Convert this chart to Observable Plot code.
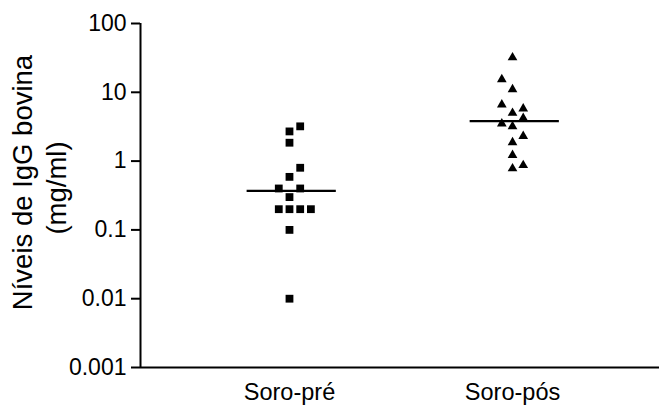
<!DOCTYPE html>
<html>
<head>
<meta charset="utf-8">
<script src="https://cdn.jsdelivr.net/npm/d3@7"></script>
<script src="https://cdn.jsdelivr.net/npm/@observablehq/plot@0.6"></script>
<style>
  html, body { margin: 0; padding: 0; background: #fff; }
  #chart svg { display: block; }
</style>
</head>
<body>
<div id="chart"></div>
<script>
// ---- data ----
const categories = ["Soro-pré", "Soro-pós"];
const preValues  = [3.2, 2.7, 1.85, 0.8, 0.59, 0.40, 0.40, 0.30, 0.20, 0.20, 0.20, 0.20, 0.10, 0.01];
const preCols    = [1, 0, 0, 1, 0, -1, 1, 0, -1, 0, 1, 2, 0, 0];
const postValues = [32, 15.4, 11, 6.6, 5.8, 5.0, 4.2, 3.5, 3.2, 2.3, 1.87, 1.22, 0.87, 0.78];
const postCols   = [0, -1, 0, -1, 1, 0, 1, -1, 0, 1, 0, 0, 1, 0];
const medians    = [0.37, 3.8];
const yTicks      = [0.001, 0.01, 0.1, 1, 10, 100];
const yTickLabels = ["0.001", "0.01", "0.1", "1", "10", "100"];
const yLabelLines = ["Níveis de IgG bovina", "(mg/ml)"];

// ---- build tables ----
const colStep = 0.048;
const pre  = preValues.map((v, i) => ({cat: 1, x: 1 + preCols[i] * colStep, v}));
const post = postValues.map((v, i) => ({cat: 2, x: 2 + postCols[i] * colStep, v}));
const med  = medians.map((m, i) => ({x1: i + 1 - 0.19, x2: i + 1 + 0.21, m}));
const xDomain = [0.332, 2.659];
const yDomain = [0.001, 100];

const font = "'Liberation Sans', Arial, Helvetica, sans-serif";

const chart = Plot.plot({
  width: 659,
  height: 405,
  marginLeft: 140,
  marginRight: 0,
  marginTop: 23,
  marginBottom: 38,
  style: {fontFamily: font, background: "#fff", color: "#000", overflow: "visible"},
  x: {type: "linear", domain: xDomain, axis: null},
  y: {type: "log", domain: yDomain, axis: null},
  marks: [
    Plot.axisY({
      ticks: yTicks,
      tickFormat: (d) => yTickLabels[yTicks.indexOf(d)],
      tickSize: 9,
      tickPadding: 5,
      fontSize: 23,
      strokeWidth: 2,
      label: null
    }),
    Plot.axisX({
      ticks: [1, 2],
      tickFormat: d => categories[d - 1],
      tickSize: 0,
      tickPadding: 16,
      fontSize: 23.5,
      label: null
    }),
    Plot.ruleX([xDomain[0]], {stroke: "#000", strokeWidth: 2}),
    Plot.ruleY([yDomain[0]], {stroke: "#000", strokeWidth: 2}),
    Plot.ruleY(med, {x1: "x1", x2: "x2", y: "m", stroke: "#000", strokeWidth: 2.2}),
    Plot.dot(pre, {x: "x", y: "v", symbol: "square", r: 4.4, fill: "#000", stroke: "none"}),
    Plot.dot(post, {x: "x", y: "v", symbol: "triangle", r: 3.6, fill: "#000", stroke: "none"}),
    Plot.text([yLabelLines[0]], {
      frameAnchor: "left", textAnchor: "middle", text: d => d, rotate: -90,
      dx: -117, dy: -13, fontSize: 27.5, fill: "#000"
    }),
    Plot.text([yLabelLines[1]], {
      frameAnchor: "left", textAnchor: "middle", text: d => d, rotate: -90,
      dx: -83, dy: -7.5, fontSize: 27.5, fill: "#000"
    })
  ]
});
document.getElementById("chart").appendChild(chart);
</script>
</body>
</html>
